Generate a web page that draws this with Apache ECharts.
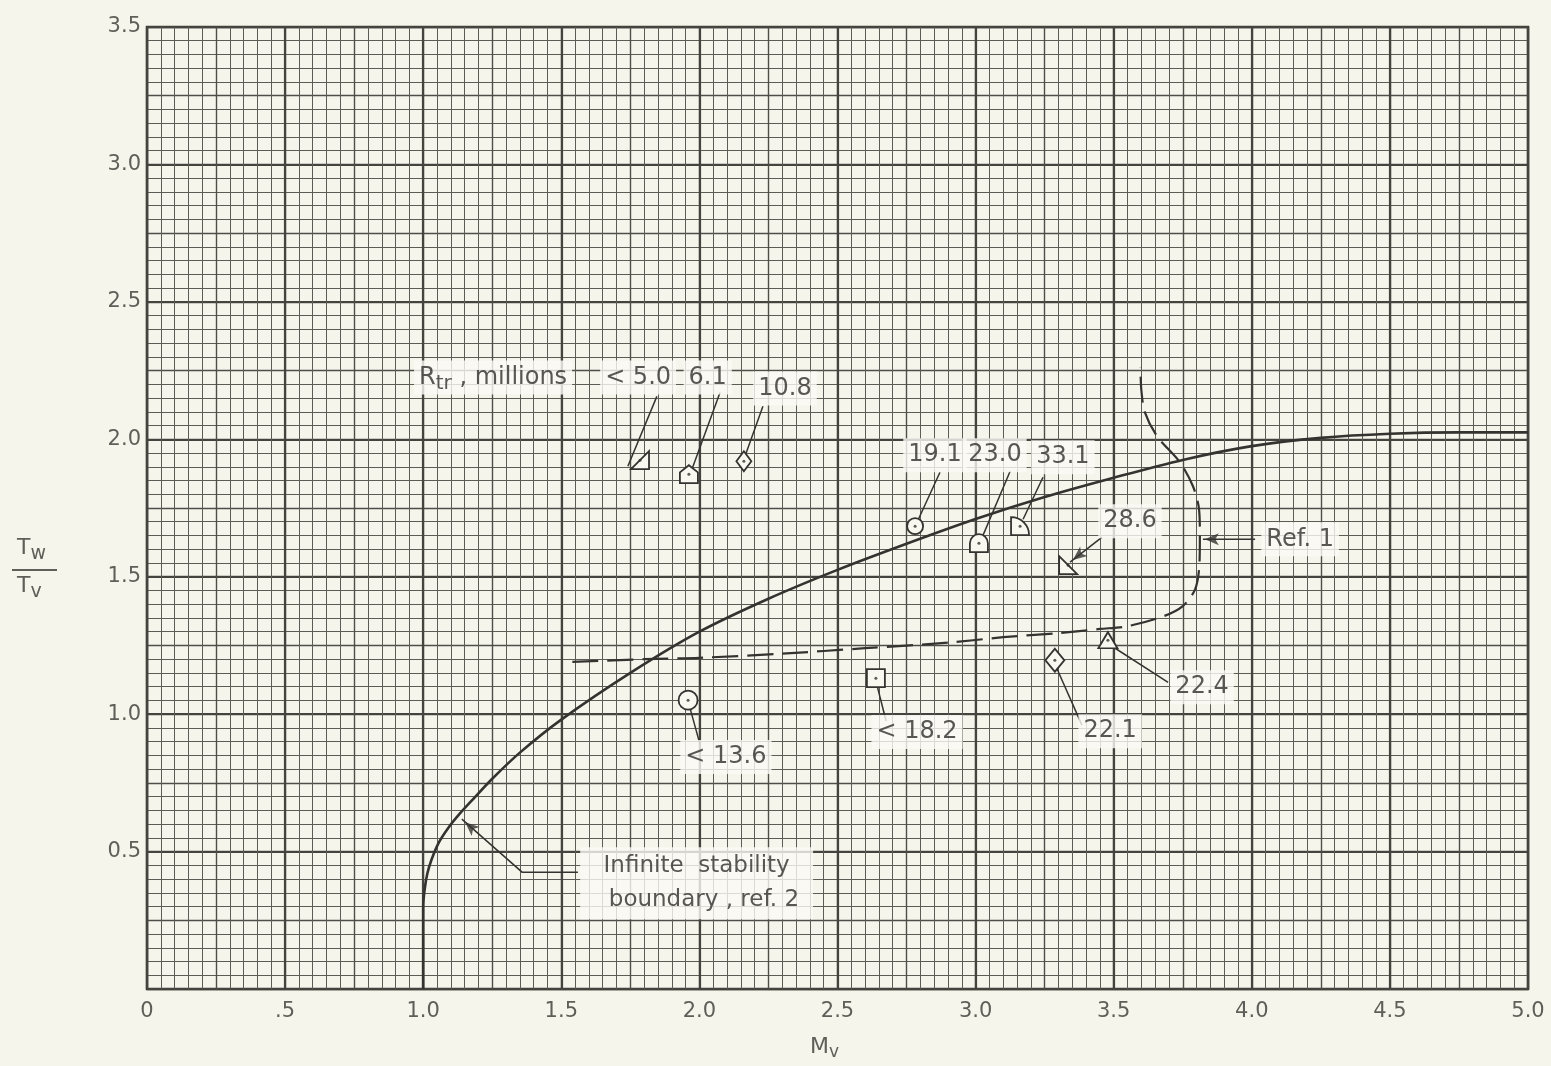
<!DOCTYPE html>
<html>
<head>
<meta charset="utf-8">
<script src="https://cdn.jsdelivr.net/npm/echarts@6.0.0/dist/echarts.min.js"></script>
<style>
html, body { margin: 0; padding: 0; background: #f6f5ec; }
#chart { width: 1551px; height: 1066px; }
</style>
</head>
<body>
<div id="chart"></div>
<script>
// tick labels
const xTickLabels = ['0', '.5', '1.0', '1.5', '2.0', '2.5', '3.0', '3.5', '4.0', '4.5', '5.0']
const yTickLabels = ['', '0.5', '1.0', '1.5', '2.0', '2.5', '3.0', '3.5']

// infinite stability boundary, ref. 2 (solid)
const boundaryM = [1.0, 1.0, 1.005, 1.015, 1.03, 1.055, 1.09, 1.13, 1.18, 1.25, 1.35, 1.5, 1.75, 2.0, 2.25, 2.5, 2.75, 3.0, 3.25, 3.5, 3.75, 4.0, 4.25, 4.5, 4.75, 5.0]
const boundaryT = [0.0, 0.3, 0.36, 0.42, 0.47, 0.53, 0.585, 0.635, 0.69, 0.765, 0.86, 0.98, 1.15, 1.3, 1.42, 1.525, 1.62, 1.71, 1.79, 1.86, 1.925, 1.975, 2.005, 2.02, 2.025, 2.025]

// Ref. 1 curve (dashed)
const ref1M = [1.54, 1.8, 2.0, 2.3, 2.6, 2.9, 3.1, 3.3, 3.45, 3.55, 3.68, 3.75, 3.795, 3.81, 3.812, 3.809, 3.787, 3.74, 3.657, 3.613, 3.6, 3.597]
const ref1T = [1.19, 1.2, 1.205, 1.22, 1.24, 1.26, 1.28, 1.295, 1.31, 1.32, 1.356, 1.393, 1.455, 1.54, 1.647, 1.745, 1.829, 1.916, 2.011, 2.098, 2.18, 2.262]

// test points, R_tr in millions
const pointLabels = ['< 5.0', '6.1', '10.8', '19.1', '23.0', '33.1', '28.6', '< 13.6', '< 18.2', '22.1', '22.4']
const pointM = [1.785, 1.962, 2.161, 2.781, 3.012, 3.161, 3.335, 1.959, 2.639, 3.287, 3.479]
const pointT = [1.924, 1.873, 1.92, 1.684, 1.622, 1.684, 1.542, 1.051, 1.131, 1.196, 1.269]

const shapes = {
  '< 5.0': 'path://M0,10 L10,0 L10,10 Z',
  '6.1': 'path://M0,4 L5,0 L10,4 L10,10 L0,10 Z',
  '10.8': 'diamond',
  '19.1': 'circle',
  '23.0': 'path://M0,10 L0,5 A5,5 0 0 1 10,5 L10,10 Z',
  '33.1': 'path://M0,10 L0,0 A10,10 0 0 1 10,10 Z',
  '28.6': 'path://M0,0 L0,10 L10,10 Z',
  '< 13.6': 'circle',
  '< 18.2': 'rect',
  '22.1': 'diamond',
  '22.4': 'triangle'
}
const sizes = { '10.8': [15, 20], '22.1': [19, 23], '< 13.6': 19, '19.1': 16, '22.4': [19, 16] }

// annotation text boxes: [text, M, T]
const notes = [
  ['{a|R}{s|tr}{a| , millions}', 1.253, 2.225],
  ['< 5.0', 1.778, 2.225],
  ['6.1', 2.03, 2.225],
  ['10.8', 2.31, 2.185],
  ['19.1', 2.853, 1.942],
  ['23.0', 3.07, 1.942],
  ['33.1', 3.316, 1.935],
  ['28.6', 3.559, 1.702],
  ['Ref. 1', 4.175, 1.636],
  ['22.4', 3.82, 1.098],
  ['22.1', 3.487, 0.938],
  ['< 18.2', 2.788, 0.935],
  ['< 13.6', 2.096, 0.844],
  ['Infinite  stability\n  boundary , ref. 2', 1.99, 0.385]
]

// leader lines from text to point
const leaders = [
  [[1.846, 2.156], [1.741, 1.902]],
  [[2.075, 2.171], [1.973, 1.891]],
  [[2.23, 2.12], [2.165, 1.938]],
  [[2.871, 1.88], [2.788, 1.698]],
  [[3.125, 1.884], [3.016, 1.625]],
  [[3.244, 1.862], [3.172, 1.709]],
  [[3.494, 1.247], [3.697, 1.116]],
  [[3.295, 1.164], [3.385, 0.96]],
  [[2.643, 1.105], [2.676, 0.975]],
  [[1.966, 1.022], [2.002, 0.891]],
  [[3.458, 1.644], [3.342, 1.553]],
  [[4.012, 1.636], [3.823, 1.636]],
  [[1.56, 0.425], [1.358, 0.425], [1.14, 0.618]]
]
// arrow tips: [tip M, tip T, from M, from T]
const arrowTips = [
  [3.352, 1.561, 3.458, 1.644],
  [3.83, 1.636, 4.012, 1.636],
  [1.152, 0.607, 1.358, 0.425]
]

const ink = '#34332f'
const textInk = '#2f2e2b'
const labelInk = '#5f5e58'
const font = 'DejaVu Sans'

function isHalf (v) {
  return Math.abs(v * 2 - Math.round(v * 2)) < 1e-6
}

const chart = echarts.init(document.getElementById('chart'))

const axisCommon = {
  type: 'value',
  axisLine: { show: false },
  axisTick: { show: false }
}

const option = {
  backgroundColor: '#f6f5ec',
  animation: false,
  grid: {
    left: 147,
    right: 23,
    top: 27,
    bottom: 77,
    show: true,
    borderColor: '#3d3b36',
    borderWidth: 2.5,
    backgroundColor: 'transparent'
  },
  xAxis: [
    Object.assign({}, axisCommon, {
      min: 0,
      max: 5,
      interval: 0.25,
      axisLabel: {
        margin: 12,
        color: labelInk,
        fontSize: 21,
        fontFamily: font,
        formatter: v => isHalf(v) ? xTickLabels[Math.round(v * 2)] : ''
      },
      splitLine: { show: true, lineStyle: { color: '#4f4d48', width: 1.4 } },
      minorTick: { show: false, splitNumber: 5 },
      minorSplitLine: { show: true, lineStyle: { color: '#5d5b55', width: 1 } }
    }),
    Object.assign({}, axisCommon, {
      min: 0,
      max: 5,
      interval: 0.5,
      axisLabel: { show: false },
      splitLine: { show: true, lineStyle: { color: '#45433e', width: 2.2 } }
    })
  ],
  yAxis: [
    Object.assign({}, axisCommon, {
      min: 0,
      max: 3.5,
      interval: 0.25,
      axisLabel: {
        margin: 6,
        color: labelInk,
        fontSize: 21,
        fontFamily: font,
        formatter: v => isHalf(v) ? yTickLabels[Math.round(v * 2)] : ''
      },
      splitLine: { show: true, lineStyle: { color: '#4f4d48', width: 1.4 } },
      minorTick: { show: false, splitNumber: 5 },
      minorSplitLine: { show: true, lineStyle: { color: '#5d5b55', width: 1 } }
    }),
    Object.assign({}, axisCommon, {
      min: 0,
      max: 3.5,
      interval: 0.5,
      axisLabel: { show: false },
      splitLine: { show: true, lineStyle: { color: '#45433e', width: 2.2 } }
    })
  ],
  graphic: [
    {
      type: 'text',
      left: 17,
      top: 537,
      style: {
        text: '{a|T}{s|w}',
        rich: {
          a: { fontSize: 22, fontFamily: font, fill: labelInk },
          s: { fontSize: 19, fontFamily: font, fill: labelInk, padding: [12, 0, 0, 0] }
        }
      }
    },
    {
      type: 'line',
      shape: { x1: 12, y1: 570, x2: 57, y2: 570 },
      style: { stroke: labelInk, lineWidth: 2 }
    },
    {
      type: 'text',
      left: 17,
      top: 575,
      style: {
        text: '{a|T}{s|v}',
        rich: {
          a: { fontSize: 22, fontFamily: font, fill: labelInk },
          s: { fontSize: 19, fontFamily: font, fill: labelInk, padding: [12, 0, 0, 0] }
        }
      }
    },
    {
      type: 'text',
      left: 810,
      top: 1036,
      style: {
        text: '{a|M}{s|v}',
        rich: {
          a: { fontSize: 22, fontFamily: font, fill: labelInk },
          s: { fontSize: 17, fontFamily: font, fill: labelInk, padding: [12, 0, 0, 0] }
        }
      }
    }
  ],
  series: [
    {
      name: 'Infinite stability boundary, ref. 2',
      type: 'line',
      smooth: 0.3,
      showSymbol: false,
      lineStyle: { color: ink, width: 2.6 },
      data: boundaryM.map((m, i) => [m, boundaryT[i]]),
      z: 3
    },
    {
      name: 'Ref. 1',
      type: 'line',
      smooth: 0.3,
      showSymbol: false,
      lineStyle: { color: ink, width: 2.2, type: [26, 9] },
      data: ref1M.map((m, i) => [m, ref1T[i]]),
      z: 3
    },
    {
      type: 'lines',
      coordinateSystem: 'cartesian2d',
      polyline: true,
      lineStyle: { color: ink, width: 1.5, opacity: 1 },
      data: leaders.map(c => ({ coords: c })),
      z: 4
    },
    {
      name: 'arrows',
      type: 'scatter',
      symbol: 'arrow',
      symbolSize: [9, 14],
      data: arrowTips.map(a => ({
        value: [a[0], a[1]],
        symbolRotate: Math.atan2(-(a[0] - a[2]), a[1] - a[3]) * 180 / Math.PI
      })),
      itemStyle: { color: ink },
      z: 4
    },
    {
      name: 'points',
      type: 'scatter',
      data: pointLabels.map((lab, i) => ({
        value: [pointM[i], pointT[i]],
        symbol: shapes[lab],
        symbolSize: sizes[lab] || 18
      })),
      itemStyle: { color: '#f8f7f0', borderColor: ink, borderWidth: 1.8, opacity: 1 },
      z: 5
    },
    {
      name: 'dots',
      type: 'scatter',
      symbol: 'circle',
      symbolSize: 3,
      data: pointM.map((m, i) => [m, pointT[i]]),
      itemStyle: { color: ink },
      z: 6
    },
    {
      name: 'notes',
      type: 'scatter',
      symbolSize: 0,
      data: notes.map(n => {
        const big = n[0].startsWith('Infinite')
        return {
          value: [n[1], n[2]],
          label: {
            show: true,
            position: 'inside',
            formatter: n[0],
            color: textInk,
            fontSize: big ? 23 : 24,
            lineHeight: big ? 34 : 30,
            align: 'center',
            padding: big ? [2, 14, 2, 14] : [2, 5, 2, 5]
          }
        }
      }),
      label: {
        color: textInk,
        fontFamily: font,
        backgroundColor: '#fbfaf5',
        rich: {
          a: { fontSize: 24, fontFamily: font, color: textInk },
          s: { fontSize: 20, fontFamily: font, color: textInk, padding: [12, 0, 0, 0] }
        }
      },
      z: 7
    }
  ]
}

chart.setOption(option)
</script>
</body>
</html>
